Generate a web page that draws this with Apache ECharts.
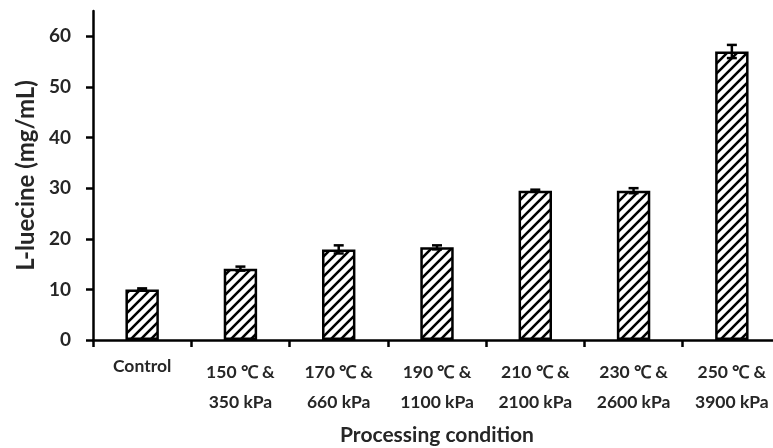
<!DOCTYPE html>
<html>
<head>
<meta charset="utf-8">
<script src="https://cdn.jsdelivr.net/npm/echarts@6/dist/echarts.min.js"></script>
<style>html,body{margin:0;padding:0;background:#fff}#c{width:773px;height:448px}</style>
</head>
<body>
<div id="c"></div>
<script>
const categories = ['Control', '150 ℃ &\n350 kPa', '170 ℃ &\n660 kPa', '190 ℃ &\n1100 kPa', '210 ℃ &\n2100 kPa', '230 ℃ &\n2600 kPa', '250 ℃ &\n3900 kPa'];
const values = [10.0, 14.1, 17.9, 18.3, 29.5, 29.5, 57.0];
const errors = [0.2, 0.4, 0.8, 0.4, 0.2, 0.5, 1.3];
const yTicks = [0, 10, 20, 30, 40, 50, 60];

// hatch pattern
const P = 10;
const pc = document.createElement('canvas');
pc.width = P; pc.height = P;
const g = pc.getContext('2d');
g.fillStyle = '#fff'; g.fillRect(0, 0, P, P);
g.strokeStyle = '#000'; g.lineWidth = 2.6;
g.beginPath();
g.moveTo(-2, P + 2); g.lineTo(P + 2, -2);
g.moveTo(-3, 3); g.lineTo(3, -3);
g.moveTo(P - 3, P + 3); g.lineTo(P + 3, P - 3);
g.stroke();

const font = 'Lato, "Open Sans", sans-serif';
const txt = '#262626';
const chart = echarts.init(document.getElementById('c'), null, {renderer: 'canvas'});
chart.setOption({
  animation: false,
  grid: {left: 93, right: -8, top: 11, bottom: 108, containLabel: false, outerBoundsMode: 'none'},
  xAxis: {
    type: 'category',
    data: categories,
    name: 'Processing condition',
    nameLocation: 'middle',
    nameGap: 85,
    nameTextStyle: {fontFamily: font, fontSize: 21, fontWeight: 'bold', color: txt},
    axisLine: {lineStyle: {color: '#000', width: 2.5}},
    axisTick: {show: true, alignWithLabel: false, length: 7, inside: false, lineStyle: {color: '#000', width: 2.5}},
    axisLabel: {
      interval: 0, margin: 17, fontFamily: font, fontSize: 17.5, fontWeight: 'bold', color: txt, lineHeight: 30,
      formatter: v => v === 'Control' ? '{c|Control}' : v,
      rich: {c: {fontFamily: font, fontSize: 17.5, fontWeight: 'bold', color: txt, lineHeight: 18}}
    }
  },
  yAxis: {
    type: 'value', min: 0, max: 65, interval: 10,
    name: 'L-luecine (mg/mL)',
    nameLocation: 'middle',
    nameGap: 55,
    nameTextStyle: {fontFamily: font, fontSize: 24, fontWeight: 'bold', color: txt},
    axisLine: {show: true, lineStyle: {color: '#000', width: 2.5}},
    axisTick: {show: true, length: 7, lineStyle: {color: '#000', width: 2.5}, customValues: yTicks},
    axisLabel: {margin: 22, fontFamily: font, fontSize: 19, fontWeight: 'bold', color: txt, customValues: yTicks},
    splitLine: {show: false}
  },
  series: [
    {
      type: 'bar',
      data: values,
      barWidth: '34%',
      itemStyle: {color: {image: pc, repeat: 'repeat'}, borderColor: '#000', borderWidth: 2.5}
    },
    {
      type: 'custom',
      data: values.map((v, i) => [i, v, errors[i]]),
      z: 10,
      renderItem: (params, api) => {
        const x = api.value(0), v = api.value(1), e = api.value(2);
        const hi = api.coord([x, v + e]);
        const lo = api.coord([x, v - e]);
        const w = 5;
        const st = {stroke: '#000', lineWidth: 2.5};
        return {type: 'group', children: [
          {type: 'line', shape: {x1: hi[0], y1: hi[1], x2: lo[0], y2: lo[1]}, style: st},
          {type: 'line', shape: {x1: hi[0] - w, y1: hi[1], x2: hi[0] + w, y2: hi[1]}, style: st},
          {type: 'line', shape: {x1: lo[0] - w, y1: lo[1], x2: lo[0] + w, y2: lo[1]}, style: st}
        ]};
      }
    }
  ]
});
</script>
</body>
</html>
